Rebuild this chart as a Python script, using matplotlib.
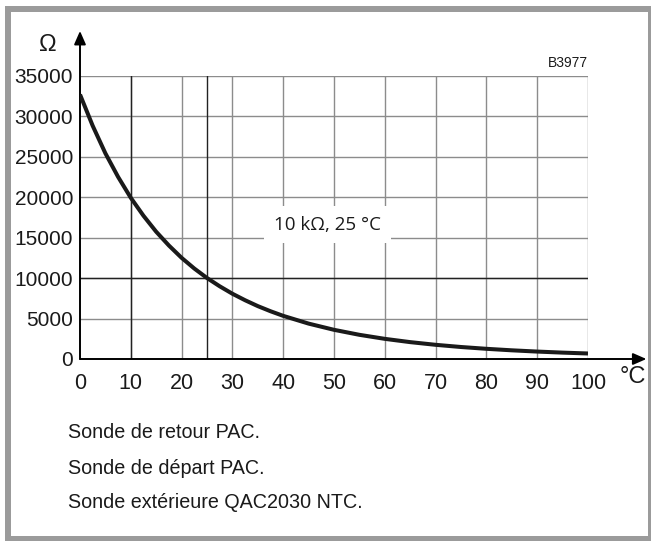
import numpy as np
import matplotlib
matplotlib.use('Agg')
import matplotlib.pyplot as plt
from matplotlib.patches import Rectangle

# courbe NTC 10 kOhm a 25 degC
temperature = [0, 2.5, 5, 7.5, 10, 12.5, 15, 17.5, 20, 22.5, 25, 27.5, 30, 32.5, 35, 37.5, 40,
               45, 50, 55, 60, 65, 70, 75, 80, 85, 90, 95, 100]
resistance = [32650, 28790, 25390, 22480, 19900, 17680, 15710, 14010, 12490, 11170, 10000,
              8977, 8057, 7255, 6530, 5897, 5327,
              4370, 3603, 2986, 2488, 2083, 1752, 1481, 1258, 1072, 917, 788, 680]

x_ticks = list(range(0, 101, 10))
y_ticks = list(range(0, 35001, 5000))
lignes_texte = ["Sonde de retour PAC.", "Sonde de départ PAC.", "Sonde extérieure QAC2030 NTC."]

W, H = 651, 541
fig = plt.figure(figsize=(W / 100, H / 100), dpi=100)
plt.rcParams['font.family'] = ['Liberation Sans', 'DejaVu Sans']

# cadre gris autour de la figure
bg = fig.add_axes([0, 0, 1, 1])
bg.set_xlim(0, W)
bg.set_ylim(H, 0)
bg.axis('off')
bg.add_patch(Rectangle((5, 6), W - 5, H - 6, facecolor='#9b9b9b', edgecolor='none'))
bg.add_patch(Rectangle((11, 12), 637, 524, facecolor='white', edgecolor='none'))

# zone du graphique en pixels
x0, x1 = 80, 588
y0, y1 = 359, 75.5
ax = fig.add_axes([x0 / W, (H - y0) / H, (x1 - x0) / W, (y0 - y1) / H])
ax.set_xlim(0, 100)
ax.set_ylim(0, 35000)
ax.patch.set_alpha(0)

grey = '#8c8c8c'
for xv in x_ticks[1:]:
    ax.axvline(xv, color=grey, lw=1.0, zorder=1)
for yv in y_ticks[1:]:
    ax.axhline(yv, color=grey, lw=1.0, zorder=1)
ax.axvline(10, color='#222222', lw=1.0, zorder=2)
ax.axvline(25, color='#222222', lw=1.0, zorder=2)
ax.axhline(10000, color='#222222', lw=1.0, zorder=2)

for s in ax.spines.values():
    s.set_visible(False)

ax.set_xticks(x_ticks)
ax.set_yticks(y_ticks)
ax.tick_params(length=0, colors='#1a1a1a')
ax.tick_params(axis='x', pad=10, labelsize=15.5)
ax.tick_params(axis='y', pad=5, labelsize=15)

# axes avec fleches
ax.annotate('', xy=(111.5, 0), xytext=(0, 0), xycoords='data', annotation_clip=False,
            arrowprops=dict(arrowstyle='-|>,head_length=0.8,head_width=0.35', color='black', lw=1.4,
                            shrinkA=0, shrinkB=0))
ax.annotate('', xy=(0, 40500), xytext=(0, 0), xycoords='data', annotation_clip=False,
            arrowprops=dict(arrowstyle='-|>,head_length=0.8,head_width=0.35', color='black', lw=1.4,
                            shrinkA=0, shrinkB=0))

ax.plot(temperature, resistance, color='#1a1a1a', lw=2.9, solid_capstyle='butt',
        solid_joinstyle='round', zorder=4)

# etiquette 10 kOhm
ax.text(48.7, 16600, "10 kΩ, 25 °C", fontsize=13.5, family=['Open Sans', 'DejaVu Sans'],
        ha='center', va='center', color='#1a1a1a', zorder=5,
        bbox=dict(facecolor='white', edgecolor='none', pad=7))

ax.text(100, 35700, "B3977", fontsize=10, ha='right', va='bottom', color='#1a1a1a')

bg.text(47.5, 45, "Ω", fontsize=17, ha='center', va='center', color='#1a1a1a')
bg.text(633, 377, "°C", fontsize=17, ha='center', va='center', color='#1a1a1a')

for i, t in enumerate(lignes_texte):
    bg.text(68, 433 + 35 * i, t, fontsize=14.2, ha='left', va='center', color='#1a1a1a')

fig.savefig('out.png', dpi=100)
